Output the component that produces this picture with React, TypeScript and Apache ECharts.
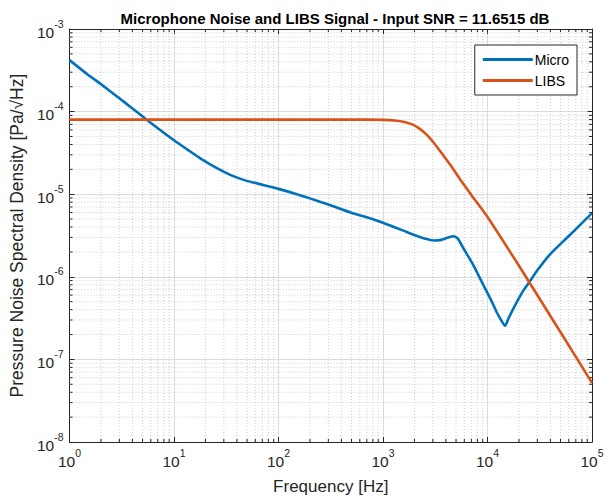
import React, { useEffect, useRef } from "react";
import * as echarts from "echarts";

const X_MIN = 1;
const X_MAX = 1e5;
const Y_MIN = 1e-8;
const Y_MAX = 1e-3;

const microFreq = [1, 1.5, 2, 3, 4, 5.4, 7, 10, 14, 18, 26, 35, 48, 70, 100, 150, 200, 300, 490, 700, 1000, 1500, 2000, 2500, 3060, 3600, 4200, 4750, 5200, 5900, 7400, 9150, 11000, 12300, 13500, 14700, 16000, 19000, 22000, 25400, 30000, 39500, 60000, 80000, 100000];
const microPsd = [4.2e-4, 2.8e-4, 2.15e-4, 1.45e-4, 1.09e-4, 8.1e-5, 6.3e-5, 4.5e-5, 3.35e-5, 2.7e-5, 2.05e-5, 1.7e-5, 1.47e-5, 1.3e-5, 1.16e-5, 1.0e-5, 8.9e-6, 7.5e-6, 6.0e-6, 5.25e-6, 4.5e-6, 3.7e-6, 3.2e-6, 2.9e-6, 2.75e-6, 2.8e-6, 3.0e-6, 3.1e-6, 2.9e-6, 2.2e-6, 1.35e-6, 7.9e-7, 5.0e-7, 3.7e-7, 3.0e-7, 2.55e-7, 3.2e-7, 4.9e-7, 6.8e-7, 8.8e-7, 1.2e-6, 1.86e-6, 3.12e-6, 4.46e-6, 5.9e-6];

const libsFreq = [1, 500, 1000, 1300, 1600, 1900, 2200, 2600, 3060, 3600, 4420, 5500, 7000, 10000, 20000, 50000, 100000];
const libsPsd = [8e-5, 8e-5, 7.95e-5, 7.8e-5, 7.5e-5, 7.0e-5, 6.3e-5, 5.3e-5, 4.2e-5, 3.2e-5, 2.25e-5, 1.5e-5, 9.8e-6, 5.3e-6, 1.36e-6, 2.13e-7, 5.2e-8];

const xMinorTicks = [2, 3, 4, 5, 6, 7, 8, 9, 20, 30, 40, 50, 60, 70, 80, 90, 200, 300, 400, 500, 600, 700, 800, 900, 2000, 3000, 4000, 5000, 6000, 7000, 8000, 9000, 20000, 30000, 40000, 50000, 60000, 70000, 80000, 90000];
const yMinorTicks = [2e-8, 3e-8, 4e-8, 5e-8, 6e-8, 7e-8, 8e-8, 9e-8, 2e-7, 3e-7, 4e-7, 5e-7, 6e-7, 7e-7, 8e-7, 9e-7, 2e-6, 3e-6, 4e-6, 5e-6, 6e-6, 7e-6, 8e-6, 9e-6, 2e-5, 3e-5, 4e-5, 5e-5, 6e-5, 7e-5, 8e-5, 9e-5, 2e-4, 3e-4, 4e-4, 5e-4, 6e-4, 7e-4, 8e-4, 9e-4];

const FONT = "'Liberation Sans', Arial, Helvetica, sans-serif";
const AX = "#262626";
const MINOR_GRID = "#cccccc";
const MAJOR_GRID = "#dcdcdc";

const fmt = (v: number) => `{b|10}{s|${Math.round(Math.log10(v))}}`;
const rich = {
  b: { fontSize: 15.5, lineHeight: 22, verticalAlign: "bottom", color: AX, fontFamily: FONT },
  s: { fontSize: 10.5, lineHeight: 11, verticalAlign: "top", color: AX, fontFamily: FONT },
};

export default function App() {
  const ref = useRef<HTMLDivElement>(null);
  useEffect(() => {
    if (!ref.current) return;
    const chart = echarts.init(ref.current, null, { renderer: "svg" });
    const baseAxis = {
      type: "log",
      logBase: 10,
      axisLine: { show: true, onZero: false, lineStyle: { color: AX, width: 1 } },
      axisTick: { show: true, inside: true, length: 5, lineStyle: { color: AX, width: 1 } },
      splitLine: { show: false },
      minorTick: { show: false },
      minorSplitLine: { show: false },
    };
    chart.setOption({
      animation: false,
      backgroundColor: "#ffffff",
      textStyle: { fontFamily: FONT },
      title: {
        text: "Microphone Noise and LIBS Signal - Input SNR = 11.6515 dB",
        left: 330,
        top: 6,
        textAlign: "center",
        textStyle: { fontSize: 15, fontWeight: "bold", color: "#000", fontFamily: FONT },
      },
      grid: { left: 68, right: 17, top: 29, bottom: 57, containLabel: false },
      legend: {
        data: [
          { name: "Micro", icon: "rect" },
          { name: "LIBS", icon: "rect" },
        ],
        orient: "vertical",
        right: 32,
        top: 45,
        padding: [7, 8, 7, 8],
        itemGap: 6,
        itemWidth: 50,
        itemHeight: 3,
        backgroundColor: "#fff",
        borderColor: AX,
        borderWidth: 1,
        textStyle: { fontSize: 14, color: "#000", fontFamily: FONT, lineHeight: 15, padding: [0, 0, 0, -3] },
      },
      xAxis: [
        {
          ...baseAxis,
          min: X_MIN,
          max: X_MAX,
          position: "bottom",
          axisLabel: { formatter: fmt, rich, margin: 5, fontSize: 15.5, color: AX, fontFamily: FONT },
          splitLine: { show: true, lineStyle: { color: MAJOR_GRID, width: 1 } },
          name: "Frequency [Hz]",
          nameLocation: "middle",
          nameGap: 36,
          nameTextStyle: { fontSize: 17, color: AX, fontFamily: FONT },
        },
        {
          ...baseAxis,
          min: X_MIN,
          max: X_MAX,
          position: "top",
          axisLabel: { show: false },
        },
      ],
      yAxis: [
        {
          ...baseAxis,
          min: Y_MIN,
          max: Y_MAX,
          position: "left",
          axisLabel: { formatter: fmt, rich, margin: 6, fontSize: 15.5, color: AX, fontFamily: FONT },
          splitLine: { show: true, lineStyle: { color: MAJOR_GRID, width: 1 } },
          name: "Pressure Noise Spectral Density [Pa/\u221AHz]",
          nameLocation: "middle",
          nameGap: 43,
          nameTextStyle: { fontSize: 17.5, color: AX, fontFamily: FONT },
        },
        {
          ...baseAxis,
          min: Y_MIN,
          max: Y_MAX,
          position: "right",
          axisLabel: { show: false },
        },
      ],
      series: [
        {
          type: "custom",
          name: "xminor",
          xAxisIndex: 0,
          yAxisIndex: 0,
          z: 1,
          silent: true,
          clip: false,
          data: xMinorTicks.map((v) => [v, Y_MIN]),
          renderItem: (params: any, api: any) => {
            const v = api.value(0);
            const b = api.coord([v, Y_MIN]);
            const t = api.coord([v, Y_MAX]);
            return {
              type: "group",
              children: [
                { type: "line", shape: { x1: b[0], y1: b[1], x2: t[0], y2: t[1] }, style: { stroke: MINOR_GRID, lineWidth: 1, lineDash: [1, 2] } },
                { type: "line", shape: { x1: b[0], y1: b[1], x2: b[0], y2: b[1] - 3 }, style: { stroke: AX, lineWidth: 1 } },
                { type: "line", shape: { x1: t[0], y1: t[1], x2: t[0], y2: t[1] + 3 }, style: { stroke: AX, lineWidth: 1 } },
              ],
            };
          },
        },
        {
          type: "custom",
          name: "yminor",
          xAxisIndex: 0,
          yAxisIndex: 0,
          z: 1,
          silent: true,
          clip: false,
          data: yMinorTicks.map((v) => [X_MIN, v]),
          renderItem: (params: any, api: any) => {
            const v = api.value(1);
            const l = api.coord([X_MIN, v]);
            const r = api.coord([X_MAX, v]);
            return {
              type: "group",
              children: [
                { type: "line", shape: { x1: l[0], y1: l[1], x2: r[0], y2: r[1] }, style: { stroke: MINOR_GRID, lineWidth: 1, lineDash: [1, 2] } },
                { type: "line", shape: { x1: l[0], y1: l[1], x2: l[0] + 3, y2: l[1] }, style: { stroke: AX, lineWidth: 1 } },
                { type: "line", shape: { x1: r[0], y1: r[1], x2: r[0] - 3, y2: r[1] }, style: { stroke: AX, lineWidth: 1 } },
              ],
            };
          },
        },
        {
          type: "line",
          name: "Micro",
          xAxisIndex: 0,
          yAxisIndex: 0,
          z: 3,
          symbol: "none",
          smooth: 0.2,
          data: microFreq.map((f, i) => [f, microPsd[i]]),
          lineStyle: { color: "#0072BD", width: 2.6 },
          itemStyle: { color: "#0072BD" },
        },
        {
          type: "line",
          name: "LIBS",
          xAxisIndex: 0,
          yAxisIndex: 0,
          z: 3,
          symbol: "none",
          smooth: 0.2,
          data: libsFreq.map((f, i) => [f, libsPsd[i]]),
          lineStyle: { color: "#D95319", width: 2.6 },
          itemStyle: { color: "#D95319" },
        },
      ],
    });
    return () => chart.dispose();
  }, []);
  return <div ref={ref} style={{ position: "absolute", left: 0, top: 0, width: 609, height: 500 }} />;
}
